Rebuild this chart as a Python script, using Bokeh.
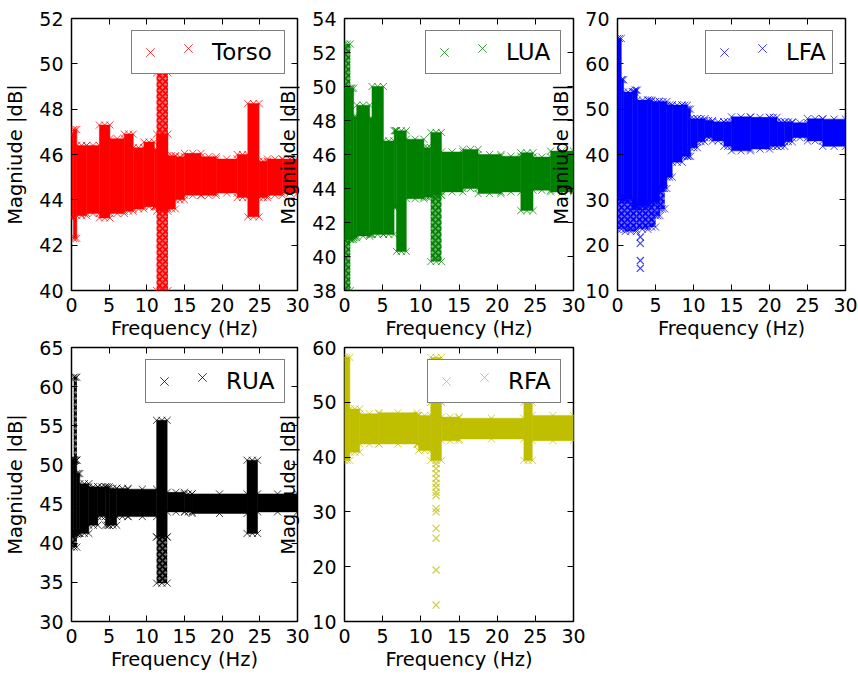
import numpy as np
from bokeh.plotting import figure
from bokeh.models import (Range1d, LinearAxis, FixedTicker, Legend, LegendItem,
                          GridBox, CustomJSTickFormatter)
from bokeh.embed import file_html
from bokeh.resources import INLINE

FONT = "DejaVu Sans"
FREQ_TICKS = [0, 5, 10, 15, 20, 25, 30]

# ---- Torso -------------------------------------------------------------
TORSO_TICKS = [40, 42, 44, 46, 48, 50, 52]
TORSO_EDGES = [0, 0.25, 0.7, 2.0, 3.7, 5.1, 7.0, 8.2, 9.6, 11.0, 11.3, 12.8,
               13.8, 15.0, 17.2, 19.2, 22.0, 23.4, 24.9, 26.0, 28.0, 30.0]
TORSO_HI = [46.9, 47.1, 46.4, 46.4, 47.3, 46.7, 46.9, 46.3, 46.55, 46.2, 46.9,
            45.95, 45.9, 46.05, 45.9, 45.8, 46.0, 48.25, 45.7, 45.8, 45.8]
TORSO_LO = [43.2, 42.3, 43.3, 43.4, 43.2, 43.4, 43.5, 43.6, 43.7, 43.7, 43.5,
            43.6, 44.0, 44.2, 44.2, 44.3, 44.1, 43.25, 44.1, 44.2, 44.3]
TORSO_SP_F0 = [11.3]
TORSO_SP_F1 = [12.8]
TORSO_SP_HI = [49.6]
TORSO_SP_LO = [40.0]
TORSO_OUT_F = []
TORSO_OUT_V = []

# ---- LUA ---------------------------------------------------------------
LUA_TICKS = [38, 40, 42, 44, 46, 48, 50, 52, 54]
LUA_EDGES = [0, 0.75, 1.2, 1.6, 3.3, 3.6, 5.1, 6.5, 6.8, 8.1, 10.4, 11.3, 12.7,
             15.5, 17.5, 20.5, 23.1, 24.7, 27.0, 30.0]
LUA_HI = [49.9, 49.9, 48.2, 48.9, 48.1, 50.0, 46.8, 47.4, 47.4, 46.9, 46.4,
          47.3, 46.15, 46.3, 46.0, 45.9, 46.1, 45.85, 46.2]
LUA_LO = [41.0, 41.0, 41.1, 41.2, 41.3, 41.3, 41.3, 42.9, 40.3, 43.4, 43.5,
          43.6, 43.8, 44.0, 43.7, 43.8, 42.7, 43.9, 43.8]
LUA_SP_F0 = [0.0, 11.3]
LUA_SP_F1 = [0.75, 12.7]
LUA_SP_HI = [52.5, 43.6]
LUA_SP_LO = [38.0, 39.7]
LUA_OUT_F = []
LUA_OUT_V = []

# ---- LFA ---------------------------------------------------------------
LFA_TICKS = [10, 20, 30, 40, 50, 60, 70]
LFA_EDGES = [0, 0.5, 0.8, 2.0, 2.3, 2.6, 4.0, 4.5, 5.5, 6.5, 7.2, 8.5, 9.2, 9.6,
             10.5, 11.5, 12.5, 14.0, 15.0, 17.5, 20.0, 21.0, 22.0, 23.0, 25.0,
             27.0, 30.0]
LFA_HI = [65.6, 56.5, 53.8, 53.8, 54.2, 52.0, 52.0, 51.7, 51.7, 50.9, 50.9,
          50.9, 50.0, 47.9, 47.9, 47.5, 47.2, 47.2, 48.3, 48.2, 48.2, 47.2,
          47.2, 47.0, 47.9, 47.8]
LFA_LO = [30.5, 30.0, 30.0, 28.5, 28.5, 28.5, 29.5, 29.5, 32.5, 35.0, 38.3,
          39.6, 39.6, 41.5, 42.8, 43.7, 43.0, 41.8, 40.8, 41.2, 41.8, 41.8,
          42.8, 43.7, 43.0, 41.8]
LFA_SP_F0 = [0.0, 1.0, 2.5, 4.0, 5.0, 5.6]
LFA_SP_F1 = [1.0, 2.5, 4.0, 5.0, 5.6, 6.2]
LFA_SP_HI = [30.5, 30.0, 28.5, 29.5, 32.5, 32.5]
LFA_SP_LO = [23.5, 23.0, 23.5, 24.0, 26.5, 28.0]
LFA_OUT_F = [3.0, 3.0, 3.0, 3.0]
LFA_OUT_V = [21.8, 20.4, 16.6, 14.9]

# ---- RUA ---------------------------------------------------------------
RUA_TICKS = [30, 35, 40, 45, 50, 55, 60, 65]
RUA_EDGES = [0, 0.3, 0.7, 1.1, 2.3, 3.5, 4.5, 5.0, 6.0, 7.5, 11.3, 12.7, 15.0,
             16.0, 23.3, 24.7, 30.0]
RUA_HI = [50.6, 50.6, 48.9, 47.6, 47.2, 47.2, 47.2, 47.0, 47.0, 46.9, 55.7,
          46.5, 46.3, 46.3, 50.6, 46.3]
RUA_LO = [41.2, 41.2, 41.25, 41.25, 42.3, 43.4, 42.3, 42.3, 43.4, 43.4, 40.8,
          44.0, 44.0, 43.8, 41.25, 44.0]
RUA_SP_F0 = [0.3, 0.0, 11.3]
RUA_SP_F1 = [0.7, 0.7, 12.7]
RUA_SP_HI = [61.2, 41.2, 40.8]
RUA_SP_LO = [50.6, 39.5, 34.9]
RUA_OUT_F = []
RUA_OUT_V = []

# ---- RFA ---------------------------------------------------------------
RFA_TICKS = [10, 20, 30, 40, 50, 60]
RFA_EDGES = [0, 0.7, 2.0, 4.5, 9.5, 9.7, 11.3, 12.7, 15.0, 23.5, 24.6, 30.0]
RFA_HI = [58.2, 48.8, 47.9, 48.1, 47.6, 47.6, 50.0, 47.3, 47.1, 50.0, 47.6]
RFA_LO = [39.4, 40.9, 42.4, 42.4, 42.4, 41.2, 39.4, 43.0, 43.3, 39.4, 43.0]
RFA_SP_F0 = [11.3]
RFA_SP_F1 = [12.7]
RFA_SP_HI = [58.2]
RFA_SP_LO = [50.0]
RFA_OUT_F = [12.0, 12.0, 12.0, 12.0, 12.0, 12.0, 12.0, 12.0, 12.0, 12.0, 12.0,
             12.0, 12.0, 12.0]
RFA_OUT_V = [38.8, 37.9, 37.0, 36.1, 35.2, 34.5, 33.6, 33.0, 30.6, 30.0, 27.0,
             25.2, 19.4, 13.0]


def style_axis(ax, ticks, show_labels):
    ax.ticker = FixedTicker(ticks=ticks)
    ax.axis_line_color = None
    ax.major_tick_in = 6
    ax.major_tick_out = 0
    ax.major_tick_line_color = "black"
    ax.major_tick_line_width = 1
    ax.minor_tick_line_color = None
    if show_labels:
        ax.major_label_text_font = FONT
        ax.major_label_text_font_size = "19px"
        ax.major_label_text_color = "black"
        ax.axis_label_text_font = FONT
        ax.axis_label_text_font_size = "19.5px"
        ax.axis_label_text_font_style = "normal"
        ax.axis_label_text_color = "black"
    else:
        ax.formatter = CustomJSTickFormatter(code="return ''")
        ax.major_label_text_font_size = "0px"
        ax.major_label_standoff = 0


def add_legend(p, name, renderer, label_w):
    common = dict(location="top_right", margin=12, padding=3,
                  glyph_width=30, glyph_height=36, label_height=36,
                  label_text_font=FONT, label_text_font_size="23px",
                  label_text_color="black")
    # boxed entry: first marker sample and the series name
    main = Legend(items=[LegendItem(label=name, renderers=[renderer])],
                  label_standoff=47, label_width=label_w,
                  border_line_color="black", border_line_width=1.5,
                  background_fill_color="white", background_fill_alpha=1,
                  **common)
    # second marker sample inside the same box
    extra = Legend(items=[LegendItem(label=" ", renderers=[renderer])],
                   label_standoff=0, label_width=label_w + 13,
                   border_line_color=None, background_fill_alpha=0,
                   **common)
    p.add_layout(main)
    p.add_layout(extra)


def panel(name, color, ticks, edges, hi, lo, sp_f0, sp_f1, sp_hi, sp_lo,
          out_f, out_v, width, height, left, right, top, bottom, label_w):
    p = figure(width=width, height=height,
               x_range=Range1d(0, 30), y_range=Range1d(ticks[0], ticks[-1]),
               output_backend="svg", toolbar_location=None,
               min_border_left=left, min_border_right=right,
               min_border_top=top, min_border_bottom=bottom,
               x_axis_label="Frequency (Hz)", y_axis_label="Magniude |dB|")
    p.border_fill_alpha = 0
    p.background_fill_color = "white"
    p.outline_line_color = "black"
    p.outline_line_width = 1.5
    p.grid.visible = False

    e = np.asarray(edges, dtype=float)
    f0, f1 = e[:-1], e[1:]
    hi = np.asarray(hi, dtype=float)
    lo = np.asarray(lo, dtype=float)

    # dense band of spectrum samples
    p.quad(left=f0, right=f1, top=hi, bottom=lo,
           fill_color=color, line_color=color, line_width=0.5)

    # sparsely populated stretches (spikes / scattered samples)
    s0 = np.asarray(sp_f0, dtype=float)
    s1 = np.asarray(sp_f1, dtype=float)
    sh = np.asarray(sp_hi, dtype=float)
    sl = np.asarray(sp_lo, dtype=float)
    if len(s0):
        p.quad(left=s0, right=s1, top=sh, bottom=sl,
               fill_color=color, fill_alpha=0.6, line_color=None,
               hatch_pattern="diagonal_cross", hatch_color=color,
               hatch_scale=6, hatch_weight=1.6)

    # x markers along the band outline
    mid = (f0 + f1) / 2
    ex = np.concatenate([f0, mid, f1, f0, mid, f1])
    ey = np.concatenate([hi, hi, hi, lo, lo, lo])
    if len(s0):
        smid = (s0 + s1) / 2
        ex = np.concatenate([ex, s0, smid, s1, s0, smid, s1])
        ey = np.concatenate([ey, sh, sh, sh, sl, sl, sl])
    edge = p.scatter(ex, ey, marker="x", size=10, line_color=color,
                     line_width=1, line_alpha=0.75)

    if len(out_f):
        p.scatter(out_f, out_v, marker="x", size=10, line_color=color,
                  line_width=1.2, line_alpha=0.75)

    style_axis(p.xaxis[0], FREQ_TICKS, True)
    style_axis(p.yaxis[0], ticks, True)
    p.xaxis[0].major_label_standoff = 7
    p.xaxis[0].axis_label_standoff = 2
    p.yaxis[0].major_label_standoff = 8
    p.yaxis[0].axis_label_standoff = 9

    top_ax = LinearAxis()
    style_axis(top_ax, FREQ_TICKS, False)
    p.add_layout(top_ax, "above")
    right_ax = LinearAxis()
    style_axis(right_ax, ticks, False)
    p.add_layout(right_ax, "right")

    add_legend(p, name, edge, label_w)
    return p


p1 = panel("Torso", "#ff0000", TORSO_TICKS, TORSO_EDGES, TORSO_HI, TORSO_LO,
           TORSO_SP_F0, TORSO_SP_F1, TORSO_SP_HI, TORSO_SP_LO,
           TORSO_OUT_F, TORSO_OUT_V, 311, 345, 71, 14, 18, 55, 69)
p2 = panel("LUA", "#008000", LUA_TICKS, LUA_EDGES, LUA_HI, LUA_LO,
           LUA_SP_F0, LUA_SP_F1, LUA_SP_HI, LUA_SP_LO,
           LUA_OUT_F, LUA_OUT_V, 314, 345, 71, 14, 18, 55, 51)
p3 = panel("LFA", "#0000ff", LFA_TICKS, LFA_EDGES, LFA_HI, LFA_LO,
           LFA_SP_F0, LFA_SP_F1, LFA_SP_HI, LFA_SP_LO,
           LFA_OUT_F, LFA_OUT_V, 312, 345, 71, 13, 18, 55, 43)
p4 = panel("RUA", "#000000", RUA_TICKS, RUA_EDGES, RUA_HI, RUA_LO,
           RUA_SP_F0, RUA_SP_F1, RUA_SP_HI, RUA_SP_LO,
           RUA_OUT_F, RUA_OUT_V, 311, 357, 71, 14, 27, 56, 55)
p5 = panel("RFA", "#bfbf00", RFA_TICKS, RFA_EDGES, RFA_HI, RFA_LO,
           RFA_SP_F0, RFA_SP_F1, RFA_SP_HI, RFA_SP_LO,
           RFA_OUT_F, RFA_OUT_V, 314, 357, 71, 14, 27, 56, 49)

# overlapping grid tracks let tick and axis labels spill into the neighbours
grid = GridBox(children=[(p1, 0, 0, 2, 2), (p2, 0, 1, 2, 3), (p3, 0, 3, 2, 2),
                         (p4, 1, 0, 2, 2), (p5, 1, 1, 2, 3)],
               cols=["273px", "38px", "235px", "41px", "271px"],
               rows=["320px", "25px", "332px"])

open("out.html", "w").write(file_html(grid, INLINE))
